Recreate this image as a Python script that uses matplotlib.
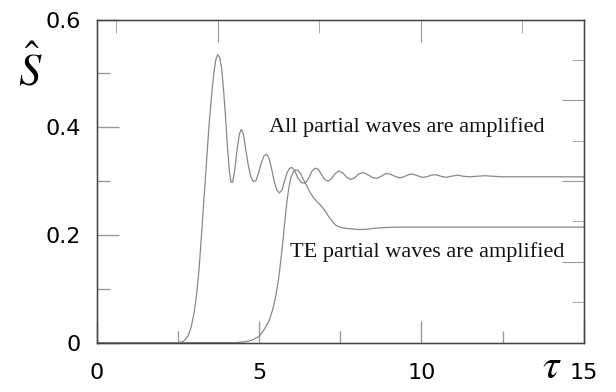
import matplotlib
matplotlib.use("Agg")
import matplotlib.pyplot as plt

# curve values (tau, S-hat)
tau_all = [0.0, 2.5, 2.6, 2.7, 2.8, 2.9, 3.0, 3.08, 3.15, 3.22, 3.3, 3.38, 3.46, 3.54, 3.6,
           3.66, 3.72, 3.78, 3.84, 3.9, 3.96, 4.02, 4.08, 4.13, 4.18, 4.24, 4.32, 4.39, 4.45,
           4.51, 4.58, 4.66, 4.74, 4.82, 4.9, 4.98, 5.06, 5.14, 5.22, 5.3, 5.38, 5.46, 5.54,
           5.62, 5.7, 5.78, 5.86, 5.94, 6.02, 6.1, 6.2, 6.3, 6.42, 6.52, 6.62, 6.72, 6.82,
           6.92, 7.02, 7.12, 7.22, 7.34, 7.46, 7.58, 7.7, 7.82, 7.94, 8.06, 8.2, 8.34, 8.48,
           8.62, 8.76, 8.9, 9.04, 9.18, 9.32, 9.46, 9.6, 9.74, 9.88, 10.02, 10.16, 10.3, 10.44,
           10.6, 10.76, 10.92, 11.1, 11.3, 11.5, 11.7, 11.96, 12.2, 12.5, 13.0, 15.0]
s_all = [0.0, 0.0, 0.001, 0.004, 0.012, 0.028, 0.058, 0.095, 0.14, 0.2, 0.27, 0.34, 0.41, 0.465, 0.5,
         0.525, 0.535, 0.53, 0.51, 0.47, 0.42, 0.365, 0.318, 0.298, 0.298, 0.318, 0.36, 0.388, 0.396,
         0.388, 0.36, 0.33, 0.308, 0.299, 0.301, 0.315, 0.333, 0.346, 0.35, 0.343, 0.323, 0.3, 0.284,
         0.278, 0.283, 0.3, 0.316, 0.324, 0.325, 0.318, 0.305, 0.297, 0.296, 0.305, 0.318, 0.324, 0.322,
         0.312, 0.303, 0.3, 0.304, 0.314, 0.319, 0.315, 0.307, 0.303, 0.306, 0.313, 0.316, 0.312, 0.307,
         0.305, 0.309, 0.314, 0.313, 0.309, 0.306, 0.308, 0.312, 0.313, 0.31, 0.307, 0.308, 0.311, 0.312,
         0.309, 0.307, 0.309, 0.311, 0.309, 0.308, 0.309, 0.31, 0.309, 0.308, 0.308, 0.308]

tau_te = [0.0, 4.3, 4.6, 4.8, 5.0, 5.15, 5.3, 5.42, 5.52, 5.6, 5.67, 5.74, 5.8, 5.86, 5.92, 5.98,
          6.05, 6.12, 6.2, 6.28, 6.36, 6.45, 6.55, 6.65, 6.76, 6.88, 7.0, 7.12, 7.24, 7.36, 7.5,
          7.7, 7.9, 8.1, 8.3, 8.5, 8.8, 9.2, 10.0, 15.0]
s_te = [0.0, 0.0, 0.002, 0.005, 0.012, 0.024, 0.04, 0.062, 0.09, 0.12, 0.155, 0.195, 0.232, 0.265, 0.29, 0.307,
        0.317, 0.321, 0.32, 0.313, 0.303, 0.293, 0.281, 0.271, 0.263, 0.256, 0.247, 0.236, 0.226, 0.218, 0.214,
        0.212, 0.211, 0.21, 0.2105, 0.212, 0.2135, 0.2145, 0.2145, 0.2145]

x_major = [0, 5, 10, 15]
x_minor = [2.5, 7.5, 12.5]
y_major = [0, 0.2, 0.4, 0.6]
y_minor = [0.1, 0.3, 0.5]
top_major = [3.72, 9.98]
top_minor = [0.59, 6.85, 13.1]
right_major = [0.15, 0.30, 0.45]
right_minor = [0.075, 0.225, 0.375, 0.525]

plt.rcParams["mathtext.fontset"] = "stix"

fig = plt.figure(figsize=(6.16, 3.92), dpi=100)
ax = fig.add_axes([0.1575, 0.126, 0.79, 0.824])

line_col = "#888888"
ax.plot(tau_all, s_all, color=line_col, lw=0.9)
ax.plot(tau_te, s_te, color=line_col, lw=0.9)

ax.set_xlim(0, 15)
ax.set_ylim(0, 0.6)
ax.set_xticks(x_major)
ax.set_xticks(x_minor, minor=True)
ax.set_yticks(y_major)
ax.set_yticks(y_minor, minor=True)
ax.set_xticklabels(["0", "5", "10", "15"])
ax.set_yticklabels(["0", "0.2", "0.4", "0.6"])
ax.tick_params(which="major", direction="in", length=16, width=1, color="#999999",
               labelsize=16, pad=11.5)
ax.tick_params(axis="x", which="major", pad=14.5)
ax.tick_params(which="minor", direction="in", length=9, width=1, color="#999999")
for sp in ax.spines.values():
    sp.set_color("#444444")
    sp.set_linewidth(1)

# frame ticks on top and right follow their own spacing
axr = ax.twinx()
axr.set_ylim(0, 0.6)
axr.set_yticks(right_major)
axr.set_yticks(right_minor, minor=True)
axr.tick_params(which="major", direction="in", length=16, color="#999999", labelright=False)
axr.tick_params(which="minor", direction="in", length=9, color="#999999")
axt = ax.twiny()
axt.set_xlim(0, 15)
axt.set_xticks(top_major)
axt.set_xticks(top_minor, minor=True)
axt.tick_params(which="major", direction="in", length=16, color="#999999", labeltop=False)
axt.tick_params(which="minor", direction="in", length=9, color="#999999")
for a in (axr, axt):
    for sp in a.spines.values():
        sp.set_color("#444444")

ax.text(5.3, 0.40, "All partial waves are amplified", family="Liberation Serif",
        fontsize=16, va="center", ha="left", color="#111111")
ax.text(5.94, 0.168, "TE partial waves are amplified", family="Liberation Serif",
        fontsize=16, va="center", ha="left", color="#111111")

fig.text(30 / 616, 1 - 70 / 392, r"$\hat{S}$", fontsize=32, ha="center", va="center")
fig.text(552 / 616, 1 - 366 / 392, r"$\tau$", fontsize=30, ha="center", va="center")

fig.savefig("out.png", dpi=100)
